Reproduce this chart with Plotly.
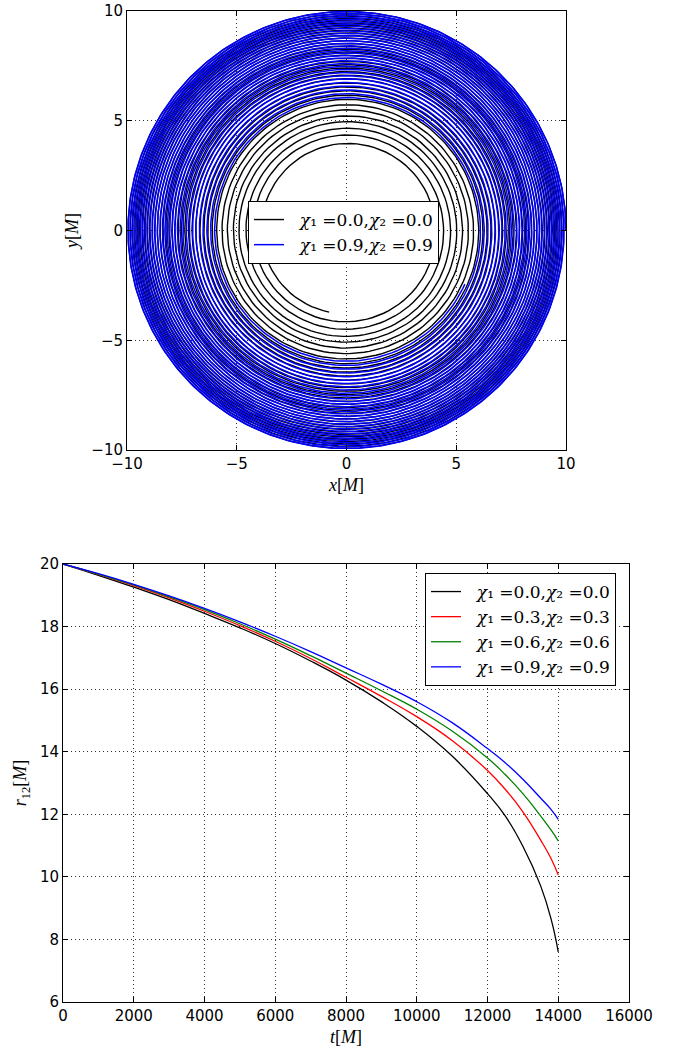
import numpy as np
import plotly.graph_objects as go

# ---------------- data ----------------
t_samples = [0, 1000, 2000, 3000, 4000, 5000, 6000, 7000, 8000, 9000,
             10000, 11000, 12000, 12500, 13000, 13500, 13800, 14000]
r12_chi00 = [20, 19.64, 19.26, 18.86, 18.42, 17.96, 17.46, 16.90, 16.29, 15.60,
             14.81, 13.86, 12.66, 11.95, 10.98, 9.72, 8.64, 7.60]
r12_chi03 = [20, 19.67, 19.31, 18.92, 18.49, 18.03, 17.53, 16.98, 16.38, 15.77,
             15.12, 14.36, 13.40, 12.80, 12.08, 11.18, 10.58, 10.06]
r12_chi06 = [20, 19.68, 19.33, 18.95, 18.54, 18.09, 17.60, 17.07, 16.51, 15.95,
             15.36, 14.66, 13.80, 13.27, 12.66, 11.95, 11.49, 11.15]
r12_chi09 = [20, 19.69, 19.35, 18.98, 18.58, 18.15, 17.69, 17.20, 16.68, 16.16,
             15.60, 14.93, 14.10, 13.65, 13.12, 12.52, 12.15, 11.84]
series_labels = ["&nbsp;&nbsp;<i>χ</i>₁ =0.0,<i>χ</i>₂ =0.0",
                 "&nbsp;&nbsp;<i>χ</i>₁ =0.3,<i>χ</i>₂ =0.3",
                 "&nbsp;&nbsp;<i>χ</i>₁ =0.6,<i>χ</i>₂ =0.6",
                 "&nbsp;&nbsp;<i>χ</i>₁ =0.9,<i>χ</i>₂ =0.9"]
series_colors = ["#000000", "#ff0000", "#008000", "#0000ff"]
start_angle_deg = 0.0         # both orbits start on the +x axis
end_angle_deg_chi00 = 258.0   # where the non-spinning orbit ends

# ---------------- orbit of one body (equal masses) from r12(t) ----------------
def orbit_phase(r12):
    t = np.linspace(t_samples[0], t_samples[-1], 9000)
    r = np.interp(t, t_samples, r12)
    omega = r ** -1.5                       # Keplerian orbital frequency (up to a constant)
    phi = np.concatenate([[0.0], np.cumsum(0.5 * (omega[1:] + omega[:-1]) * np.diff(t))])
    return r, phi

r0, phi0 = orbit_phase(r12_chi00)
r9, phi9 = orbit_phase(r12_chi09)
# calibrate the frequency constant so the non-spinning orbit ends where the reference shows it
sweep = np.deg2rad(end_angle_deg_chi00 - start_angle_deg)
n_turns = np.round((phi0[-1] - sweep) / (2 * np.pi))
k = (2 * np.pi * n_turns + sweep) / phi0[-1]
a0 = np.deg2rad(start_angle_deg)

fig = go.Figure()
fig.add_trace(go.Scatter(x=0.5 * r0 * np.cos(k * phi0 + a0), y=0.5 * r0 * np.sin(k * phi0 + a0),
                         mode="lines", line=dict(color="#000000", width=1.4),
                         name=series_labels[0], xaxis="x", yaxis="y", legend="legend"))
fig.add_trace(go.Scatter(x=0.5 * r9 * np.cos(k * phi9 + a0), y=0.5 * r9 * np.sin(k * phi9 + a0),
                         mode="lines", line=dict(color="#0000ff", width=1.5),
                         name=series_labels[3], xaxis="x", yaxis="y", legend="legend"))

for r12, lab, col in zip([r12_chi00, r12_chi03, r12_chi06, r12_chi09], series_labels, series_colors):
    fig.add_trace(go.Scatter(x=t_samples, y=r12, mode="lines",
                             line=dict(color=col, width=1.3, shape="spline", smoothing=1.3),
                             name=lab, xaxis="x2", yaxis="y2", legend="legend2"))

W, H = 674, 1049
tick_font = dict(family="DejaVu Sans", size=15, color="black")
title_font = dict(family="Liberation Serif", size=18, color="black")
legend_font = dict(family="DejaVu Serif", size=17, color="black")
axis_common = dict(showline=True, linecolor="black", linewidth=1, mirror="ticks",
                   ticks="inside", ticklen=5, tickcolor="black", tickwidth=1,
                   showgrid=True, gridcolor="#333333", griddash="1px,3px", gridwidth=1,
                   zeroline=False, tickfont=tick_font, automargin=False)

fig.update_layout(
    width=W, height=H, margin=dict(l=0, r=0, t=0, b=0, autoexpand=False),
    paper_bgcolor="white", plot_bgcolor="white",
    xaxis=dict(domain=[127 / W, 566 / W], range=[-10, 10], dtick=5, anchor="y",
               title=dict(text="<i>x</i>[<i>M</i>]", font=title_font, standoff=6), **axis_common),
    yaxis=dict(domain=[1 - 450 / H, 1 - 11 / H], range=[-10, 10], dtick=5, anchor="x",
               title=dict(text="<i>y</i>[<i>M</i>]", font=title_font, standoff=8), **axis_common),
    xaxis2=dict(domain=[63 / W, 629 / W], range=[0, 16000], dtick=2000, tickformat="d", anchor="y2",
                title=dict(text="<i>t</i>[<i>M</i>]", font=title_font, standoff=6), **axis_common),
    yaxis2=dict(domain=[1 - 1002 / H, 1 - 564 / H], range=[6, 20], dtick=2, anchor="x2",
                title=dict(text="<i>r</i><sub>12</sub>[<i>M</i>]", font=title_font, standoff=8),
                **axis_common),
    legend=dict(x=248 / W, y=1 - 201 / H, xanchor="left", yanchor="top",
                bgcolor="white", bordercolor="black", borderwidth=1, font=legend_font),
    legend2=dict(x=425 / W, y=1 - 573 / H, xanchor="left", yanchor="top",
                 bgcolor="white", bordercolor="black", borderwidth=1, font=legend_font),
)

fig.write_html("out.html")
